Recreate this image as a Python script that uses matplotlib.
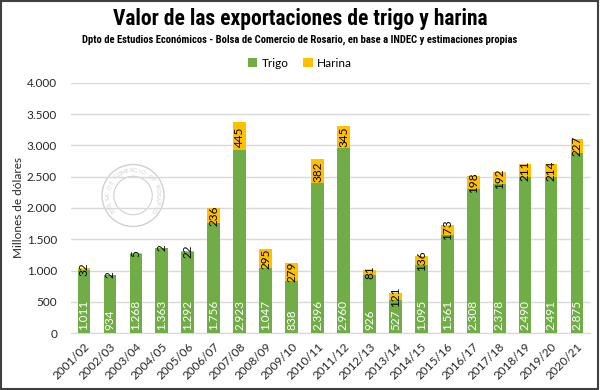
import matplotlib.pyplot as plt
import matplotlib.ticker as mticker
from matplotlib.patches import Rectangle, Ellipse
from matplotlib import font_manager
import numpy as np

campanas = ['2001/02', '2002/03', '2003/04', '2004/05', '2005/06', '2006/07',
            '2007/08', '2008/09', '2009/10', '2010/11', '2011/12', '2012/13',
            '2013/14', '2014/15', '2015/16', '2016/17', '2017/18', '2018/19',
            '2019/20', '2020/21']
trigo = [1011, 934, 1268, 1363, 1292, 1756, 2923, 1047, 838, 2396,
         2960, 926, 527, 1095, 1561, 2308, 2378, 2490, 2491, 2875]
harina = [32, 2, 5, 2, 22, 236, 445, 295, 279, 382,
          345, 81, 121, 136, 173, 198, 192, 211, 214, 227]

green = '#70ad47'
yellow = '#ffc000'
grid_c = '#d9d9d9'
seal_c = '#d0d0d0'
body = ['Lato', 'DejaVu Sans']

installed = {f.name for f in font_manager.fontManager.ttflist}
narrow = [f for f in ['Roboto Condensed', 'Liberation Sans Narrow', 'Open Sans Condensed',
                      'DejaVu Sans Condensed'] if f in installed] + ['DejaVu Sans']

W, H = 600, 390


def fmt_miles(v):
    return f'{int(v):,}'.replace(',', '.')


fig = plt.figure(figsize=(W / 100, H / 100), dpi=100)
fig.patch.set_facecolor('white')
ax = fig.add_axes([71 / W, 1 - 333 / H, (590 - 71) / W, (333 - 83) / H])
ax.set_xlim(-0.5, len(campanas) - 0.5)
ax.set_ylim(0, 4000)

# faint seal watermark, centred between the 2.000 and 2.500 gridlines
px_x = (590 - 71) / len(campanas)   # pixels per category
px_y = (333 - 83) / 4000            # pixels per unit
sc_x, sc_y, rad = 1.89, 2200, 31    # centre in data units, radius in pixels
for rr, lw in [(rad, 1.0), (rad * 0.62, 0.8)]:
    ax.add_patch(Ellipse((sc_x, sc_y), 2 * rr / px_x, 2 * rr / px_y, fill=False,
                         edgecolor=seal_c, linewidth=lw, zorder=1))
seal_txt = 'BOLSA DE COMERCIO DE ROSARIO'
for ch, a in zip(seal_txt, np.linspace(215, -35, len(seal_txt))):
    r = np.deg2rad(a)
    ax.text(sc_x + 0.8 * rad * np.cos(r) / px_x, sc_y + 0.8 * rad * np.sin(r) / px_y, ch,
            rotation=a - 90, ha='center', va='center', fontsize=4.5, color=seal_c,
            family=body, zorder=1)

x = np.arange(len(campanas))
w = 0.49
ax.bar(x, trigo, w, color=green, label='Trigo', zorder=3)
ax.bar(x, harina, w, bottom=trigo, color=yellow, label='Harina', zorder=3)

for i in range(len(campanas)):
    ax.text(x[i], 50, fmt_miles(trigo[i]), rotation=90, ha='center', va='bottom',
            color='white', fontsize=8.5, family=body, zorder=4)
    ax.text(x[i], trigo[i] + harina[i] / 2, fmt_miles(harina[i]), rotation=90,
            ha='center', va='center', color='black', fontsize=8.5, family=body, zorder=4)

ax.yaxis.set_major_locator(mticker.MultipleLocator(500))
ax.yaxis.set_major_formatter(mticker.FuncFormatter(lambda v, p: fmt_miles(v)))
ax.grid(axis='y', color=grid_c, linewidth=1, zorder=0)
for s in ['top', 'right', 'left']:
    ax.spines[s].set_visible(False)
ax.spines['bottom'].set_color(grid_c)
ax.tick_params(axis='both', length=0, labelsize=8.5, colors='#262626')
ax.set_xticks(x)
ax.set_xticklabels(campanas, rotation=45, ha='right', rotation_mode='anchor', family=body)
for lab in ax.get_yticklabels():
    lab.set_family(body)
ax.tick_params(axis='y', pad=10)
ax.tick_params(axis='x', pad=6)
ax.set_ylabel('Millones de dólares', fontsize=8.5, family=body, color='#262626', labelpad=2)

fig.text(0.5, 0.952, 'Valor de las exportaciones de trigo y harina', ha='center', va='center',
         fontsize=15.5, fontweight='bold', family=narrow, fontstretch='condensed')
fig.text(0.5, 0.897, 'Dpto de Estudios Económicos - Bolsa de Comercio de Rosario, en base a INDEC y estimaciones propias',
         ha='center', va='center', fontsize=7.7, fontweight='bold', family=narrow,
         fontstretch='condensed')
fig.legend(loc='center', bbox_to_anchor=(0.5, 0.838), ncol=2, frameon=False,
           prop={'family': body, 'size': 8.5}, handlelength=0.8, handleheight=0.8,
           handletextpad=0.4, columnspacing=1.2)

fig.add_artist(Rectangle((0.002, 0.003), 0.995, 0.994, transform=fig.transFigure,
                         fill=False, edgecolor='#404040', linewidth=1.5))

fig.savefig('out.png', dpi=100, facecolor='white')
